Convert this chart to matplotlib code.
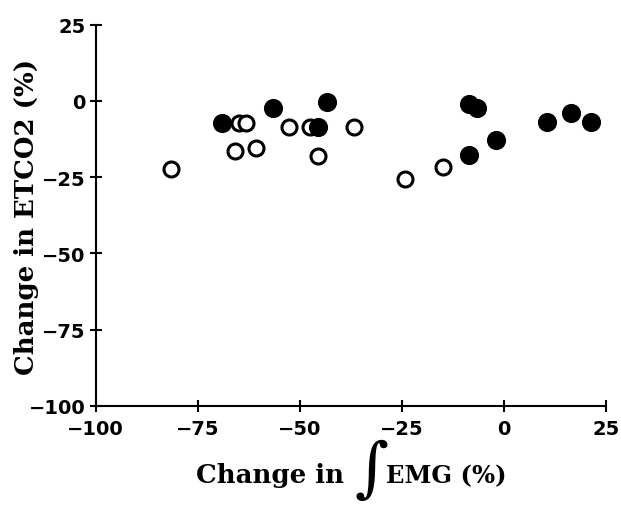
import numpy as np
import matplotlib.pyplot as plt

# change in integrated EMG (%) vs change in end-tidal CO2 (%)
open_x = [-65.0, -63.2, -65.8, -60.6, -81.6, -52.6, -47.5, -36.6, -45.6, -14.9, -24.3]
open_y = [-7.3, -7.3, -16.3, -15.4, -22.3, -8.4, -8.4, -8.4, -17.9, -21.8, -25.6]
filled_x = [-69.0, -56.5, -43.4, -45.4, -8.6, -6.6, -2.0, -8.4, 10.5, 16.5, 21.4]
filled_y = [-7.3, -2.3, -0.4, -8.4, -1.0, -2.3, -12.8, -17.6, -7.0, -4.0, -7.0]

ticks = [-100, -75, -50, -25, 0, 25]
tick_labels = ['\u2212100', '\u221275', '\u221250', '\u221225', '0', '25']

W, H = 621, 506
fig = plt.figure(figsize=(W / 100, H / 100), dpi=100)
ax = fig.add_axes([95.7 / W, 1 - 406.7 / H, 510 / W, 380.9 / H])

ax.plot(open_x, open_y, 'o', ms=10.8, mfc='white', mec='black', mew=2.2,
        ls='none', clip_on=False)
ax.plot(filled_x, filled_y, 'o', ms=13.8, mfc='black', mec='black', mew=0,
        ls='none', clip_on=False)

ax.set_xlim(-100, 25)
ax.set_ylim(-100, 25)
for s in ['top', 'right']:
    ax.spines[s].set_visible(False)
for s in ['left', 'bottom']:
    ax.spines[s].set_linewidth(1.5)

ax.set_xticks(ticks)
ax.set_yticks(ticks)
ax.set_xticklabels(tick_labels)
ax.set_yticklabels(tick_labels)
ax.tick_params(direction='inout', length=9, width=1.5)
ax.tick_params(axis='x', pad=5)
ax.tick_params(axis='y', pad=3)
for lab in ax.get_xticklabels() + ax.get_yticklabels():
    lab.set_fontfamily('DejaVu Sans')
    lab.set_fontweight('bold')
    lab.set_fontsize(14)

lab_font = dict(family='DejaVu Serif', weight='bold', size=18.7)
fig.text(27 / W, 1 - 217 / H, 'Change in ETCO2 (%)', rotation=90,
         ha='center', va='center', **lab_font)

# x label with a tall integral sign
base = 1 - 483 / H
fig.text(196 / W, base, 'Change in', ha='left', va='baseline', **lab_font)
fig.text(371 / W, 1 - 471 / H, '\u222b', ha='center', va='center',
         family='DejaVu Serif', size=47)
fig.text(386 / W, base, 'EMG (%)', ha='left', va='baseline',
         family='DejaVu Serif', weight='bold', size=17.5)

fig.savefig('out.png', dpi=100)
